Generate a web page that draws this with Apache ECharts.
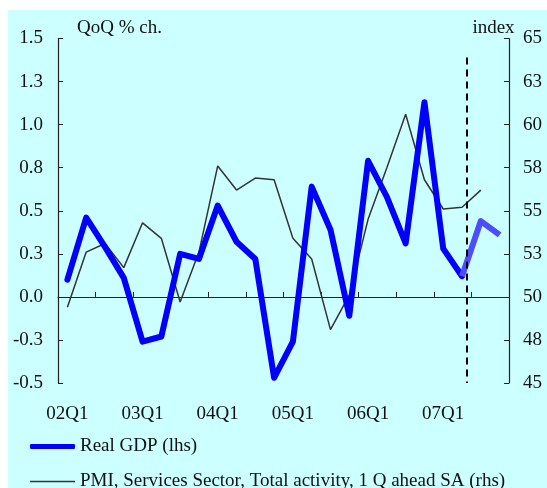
<!DOCTYPE html>
<html>
<head>
<meta charset="utf-8">
<script src="https://cdn.jsdelivr.net/npm/echarts@6/dist/echarts.min.js"></script>
<style>
html,body{margin:0;padding:0;background:#fff;}
#c{width:547px;height:488px;}
</style>
</head>
<body>
<div id="c"></div>
<script>
var categories = ['02Q1','02Q2','02Q3','02Q4','03Q1','03Q2','03Q3','03Q4','04Q1','04Q2','04Q3','04Q4',
  '05Q1','05Q2','05Q3','05Q4','06Q1','06Q2','06Q3','06Q4','07Q1','07Q2','07Q3','07Q4'];
var gdpActual = [0.10,0.46,0.29,0.11,-0.26,-0.23,0.25,0.22,0.53,0.32,0.22,-0.47,
  -0.26,0.64,0.39,-0.11,0.79,0.58,0.31,1.13,0.28,0.12,null,null];
var gdpForecast = [null,null,null,null,null,null,null,null,null,null,null,null,
  null,null,null,null,null,null,null,null,null,0.12,0.44,0.36];
var pmi = [49.4,52.6,53.1,51.7,54.3,53.4,49.7,52.6,57.6,56.2,56.9,56.8,
  53.4,52.2,48.1,50.1,54.5,57.5,60.6,56.8,55.1,55.2,56.2,null];
var leftTicks = ['-0.5','-0.3','0.0','0.3','0.5','0.8','1.0','1.3','1.5'];
var rightTicks = ['45','48','50','53','55','58','60','63','65'];
var forecastStart = 21.75;       // position on the quarter scale (boundaries at integers)
var dashRange = [1.39, -0.5];    // lhs values where the forecast divider starts/ends
var gdpName = 'Real GDP (lhs)';
var pmiName = 'PMI, Services Sector, Total activity, 1 Q ahead SA (rhs)';

var FONT = 'Liberation Serif';
var FS = 19;
var chart = echarts.init(document.getElementById('c'));
chart.setOption({
  animation: false,
  backgroundColor: '#ffffff',
  textStyle: {fontFamily: FONT},
  graphic: [{type:'rect', left:8, top:10, z:-10, shape:{width:539, height:478}, style:{fill:'#CCFFFF'}}],
  grid: {left:58, right:38, top:38.5, bottom:105, containLabel:false},
  legend: [{
    orient:'horizontal', left:30, top:437, padding:0, itemWidth:45, itemHeight:5, icon:'roundRect',
    data:[gdpName], textStyle:{fontFamily:FONT, fontSize:FS, color:'#111'}
  },{
    orient:'horizontal', left:30, top:472, padding:0, itemWidth:45, itemHeight:1.5, icon:'rect',
    data:[pmiName], textStyle:{fontFamily:FONT, fontSize:FS, color:'#111'}
  }],
  xAxis: [{
    type:'category', data:categories, position:'bottom',
    axisLine:{show:false, onZero:false}, axisTick:{show:false},
    axisLabel:{interval:3, fontFamily:FONT, fontSize:FS, color:'#111', margin:22}
  },{
    type:'category', data:categories, position:'bottom',
    axisLine:{show:true, onZero:true, lineStyle:{color:'#222', width:1.2}},
    axisTick:{show:true, inside:true, length:5, lineStyle:{color:'#222'}},
    axisLabel:{show:false}
  },{
    type:'value', min:0, max:categories.length, position:'bottom', show:false
  }],
  yAxis: [{
    type:'value', min:-0.5, max:1.5, interval:0.25, position:'left',
    name:'QoQ % ch.', nameLocation:'end', nameGap:1,
    nameTextStyle:{fontFamily:FONT, fontSize:FS, color:'#111', align:'left', padding:[0,0,0,19]},
    axisLine:{show:true, lineStyle:{color:'#222', width:1.2}},
    axisTick:{show:true, inside:true, length:5, lineStyle:{color:'#222'}},
    splitLine:{show:false},
    axisLabel:{fontFamily:FONT, fontSize:FS, color:'#111', margin:15,
      formatter:function(v,i){return leftTicks[i];}}
  },{
    type:'value', min:45, max:65, interval:2.5, position:'right',
    name:'index', nameLocation:'end', nameGap:1,
    nameTextStyle:{fontFamily:FONT, fontSize:FS, color:'#111', align:'center', padding:[0,31,0,0]},
    axisLine:{show:true, lineStyle:{color:'#222', width:1.2}},
    axisTick:{show:true, inside:true, length:5, lineStyle:{color:'#222'}},
    splitLine:{show:false},
    axisLabel:{fontFamily:FONT, fontSize:FS, color:'#111', margin:14,
      formatter:function(v,i){return rightTicks[i];}}
  }],
  series: [{
    name:pmiName, type:'line', data:pmi,
    yAxisIndex:1, xAxisIndex:0, symbol:'none', z:2,
    lineStyle:{color:'#333333', width:1.5}, itemStyle:{color:'#333333'}
  },{
    name:gdpName, type:'line', data:gdpActual, yAxisIndex:0, xAxisIndex:0,
    symbol:'none', z:3, lineStyle:{color:'#0000FF', width:6, join:'round', cap:'round'}, itemStyle:{color:'#0000FF'}
  },{
    name:'forecast', type:'line', data:gdpForecast, yAxisIndex:0, xAxisIndex:0,
    symbol:'none', z:3, lineStyle:{color:'#4D4DFF', width:6, join:'round', cap:'butt'}, itemStyle:{color:'#4D4DFF'}
  },{
    name:'divider', type:'line', data:[], yAxisIndex:0, xAxisIndex:2, clip:false,
    symbol:'none', z:4,
    markLine:{silent:true, symbol:['none','none'], label:{show:false}, animation:false,
      lineStyle:{color:'#000', type:[7,5], width:2},
      data:[[{coord:[forecastStart, dashRange[0]]},{coord:[forecastStart, dashRange[1]]}]]}
  }]
});
</script>
</body>
</html>
